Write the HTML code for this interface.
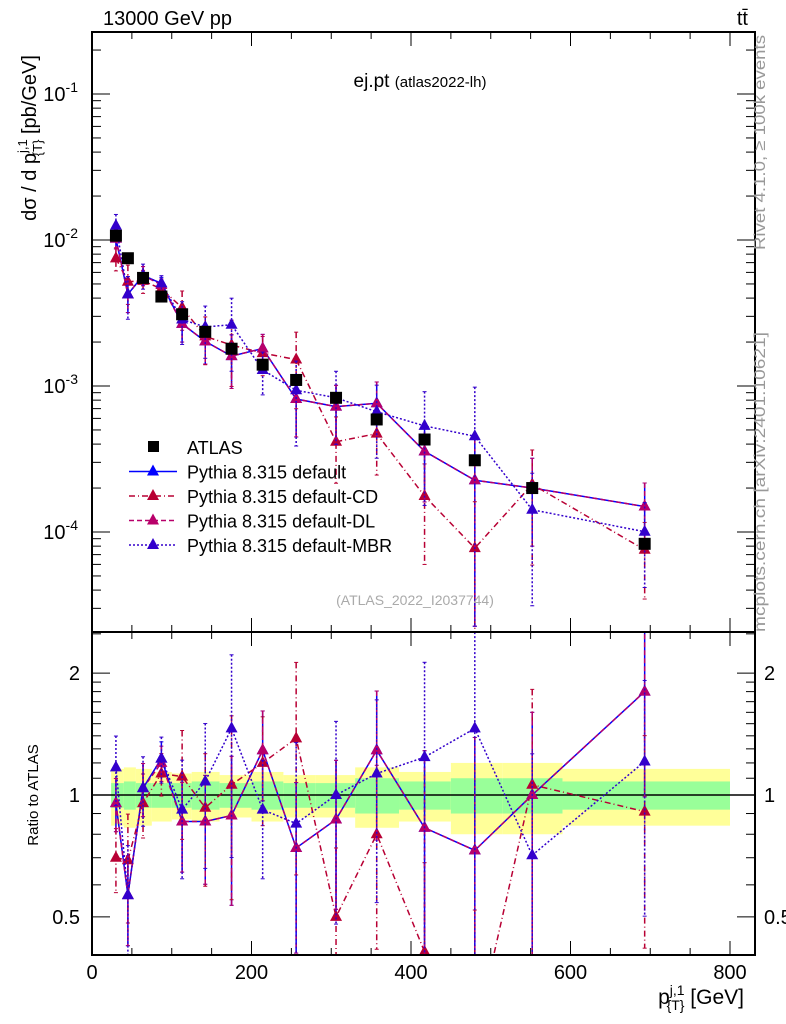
<!DOCTYPE html>
<html><head><meta charset="utf-8"><style>
html,body{margin:0;padding:0;background:#fff;overflow:hidden;width:786px;height:1024px;}
svg{display:block;font-family:"Liberation Sans",sans-serif;}
</style></head><body>
<svg id="chart" width="786" height="1024" viewBox="0 0 786 1024" xmlns="http://www.w3.org/2000/svg">
<rect width="786" height="1024" fill="#fff"/>
<g id="bands"></g>
<g id="ticks"></g>
<g id="series"></g>
<rect x="92" y="32" width="663" height="600" fill="none" stroke="#000" stroke-width="2"/>
<rect x="92" y="632" width="663" height="323" fill="none" stroke="#000" stroke-width="2"/>
<text x="103" y="25" font-size="20">13000 GeV pp</text>
<text x="748" y="25" font-size="20" text-anchor="end">tt̄</text>
<text x="420" y="87" font-size="19" text-anchor="middle">ej.pt <tspan font-size="15">(atlas2022-lh)</tspan></text>
<text x="415" y="605" font-size="14" fill="#aaa" text-anchor="middle">(ATLAS_2022_I2037744)</text>
<text transform="translate(765,250) rotate(-90)" font-size="16" fill="#999" textLength="215" lengthAdjust="spacingAndGlyphs">Rivet 4.1.0, ≥ 100k events</text>
<text transform="translate(765,632) rotate(-90)" font-size="16" fill="#999" textLength="300" lengthAdjust="spacingAndGlyphs">mcplots.cern.ch [arXiv:2401.10621]</text>
<text transform="translate(36,138) rotate(-90)" font-size="20" text-anchor="middle">dσ / d p<tspan font-size="13" dy="-9">j,1</tspan><tspan font-size="13" dx="-17" dy="15">{T}</tspan><tspan dy="-6"> [pb/GeV]</tspan></text>
<text transform="translate(38,795) rotate(-90)" font-size="15" text-anchor="middle">Ratio to ATLAS</text>
<text x="744" y="1004" font-size="21" text-anchor="end">p<tspan font-size="14" dy="-9">j,1</tspan><tspan font-size="14" dx="-18" dy="15">{T}</tspan><tspan dy="-6"> [GeV]</tspan></text>
<g id="legend"></g>
</svg>
<script>
const xs = [30,45,64,87,113,142,175,214,256,306,357,417,480,552,693];
const dataVals = [1.07e-2,7.5e-3,5.5e-3,4.1e-3,3.1e-3,2.35e-3,1.8e-3,1.4e-3,1.1e-3,8.3e-4,5.9e-4,4.3e-4,3.1e-4,2.0e-4,8.3e-5];
const ratioDefault = [0.955,0.566,1.04,1.23,0.86,0.86,0.89,1.29,0.74,0.87,1.29,0.83,0.73,1.0,1.80];
const ratioCD = [0.70,0.69,0.955,1.13,1.11,0.93,1.06,1.20,1.38,0.50,0.80,0.41,0.25,1.06,0.91];
const ratioDL = [0.955,0.566,1.04,1.20,0.86,0.86,0.89,1.29,0.74,0.87,1.29,0.83,0.73,1.0,1.80];
const ratioMBR = [1.17,0.566,1.04,1.23,0.92,1.08,1.46,0.92,0.85,1.0,1.13,1.24,1.46,0.71,1.21];
const relErr = [0.15,0.25,0.15,0.1,0.25,0.3,0.4,0.25,0.45,0.4,0.4,0.55,0.9,0.6,0.45];
const binEdges = [24,40,55,75,100,125,160,200,240,280,330,385,450,515,590,800];
const bandYellow = [0.16,0.17,0.16,0.14,0.13,0.14,0.12,0.14,0.12,0.12,0.17,0.14,0.2,0.2,0.16];
const bandGreen = [0.07,0.08,0.07,0.07,0.07,0.08,0.07,0.08,0.07,0.07,0.1,0.08,0.1,0.1,0.08];
const mainTicks = [-1,-2,-3,-4];
const ratioTicks = [0.5,1,2];
const xTicks = [0,200,400,600,800];

const NS="http://www.w3.org/2000/svg";
const X=v=>92+v*0.7975;
const YM=v=>240-146*(Math.log10(v)+2);
const YR=r=>795-405*Math.log10(r);
function mk(tag,attrs,parent){const e=document.createElementNS(NS,tag);for(const k in attrs)e.setAttribute(k,attrs[k]);(typeof parent==='string'?document.getElementById(parent):parent).appendChild(e);return e;}

for(let i=0;i<bandYellow.length;i++){
  const x0=X(binEdges[i]),x1=X(binEdges[i+1]);
  const y=mk('rect',{x:x0,y:YR(1+bandYellow[i]),width:x1-x0,height:YR(1-bandYellow[i])-YR(1+bandYellow[i]),fill:'#ffff99'},'bands');
  
  
  const g=mk('rect',{x:x0,y:YR(1+bandGreen[i]),width:x1-x0,height:YR(1-bandGreen[i])-YR(1+bandGreen[i]),fill:'#99ff99'},'bands');
  
  
}
const ref=mk('line',{x1:92,x2:755,y1:795,y2:795,stroke:'#000','stroke-width':1.5},'bands');



function tick(x1,y1,x2,y2){mk('line',{x1,y1,x2,y2,stroke:'#000','stroke-width':1},'ticks');}
function label(x,y,t,anchor,size){const e=mk('text',{x,y,'font-size':size||20,'text-anchor':anchor},'ticks');e.textContent=t;return e;}
for(let v=0;v<=800;v+=50){
  const x=X(v),L=v%200===0?14:7;
  tick(x,632,x,632-L);tick(x,32,x,32+L);tick(x,955,x,955-L);tick(x,632,x,632+L);
}
xTicks.forEach(v=>label(X(v),979,String(v),'middle'));
for(let d=-5;d<0;d++)for(let m=1;m<10;m++){
  const y=YM(m*Math.pow(10,d));if(y<33||y>631)continue;
  const L=m===1?18:9;tick(92,y,92+L,y);tick(755,y,755-L,y);
}
mainTicks.forEach(d=>{const t=label(78,YM(Math.pow(10,d))+7,'10','end');const s=document.createElementNS(NS,'tspan');s.setAttribute('font-size','14');s.setAttribute('dy','-9');s.textContent=String(d);t.appendChild(s);});
[0.4,0.5,0.6,0.7,0.8,0.9,1,1.1,1.2,1.3,1.4,1.5,1.6,1.7,1.8,1.9,2,2.5].forEach(r=>{
  const y=YR(r);if(y<633||y>954)return;const L=[0.5,1,2].includes(r)?18:9;tick(92,y,92+L,y);tick(755,y,755-L,y);
});
ratioTicks.forEach(r=>{label(80,YR(r)+7,String(r),'end');label(764,YR(r)+7,String(r),'start');});

const clipR=mk('clipPath',{id:'cr'},'series');mk('rect',{x:92,y:632,width:663,height:323},clipR);
const clipM=mk('clipPath',{id:'cm'},'series');mk('rect',{x:92,y:32,width:663,height:600},clipM);
const series=[
 {name:'default',r:ratioDefault,c:'#0000ff',d:'none',e:1},
 {name:'default-CD',r:ratioCD,c:'#b80034',d:'6,3,1,3',e:1.2},
 {name:'default-DL',r:ratioDL,c:'#b8006a',d:'5,3',e:1},
 {name:'default-MBR',r:ratioMBR,c:'#3300cc',d:'2,2',e:1.3}
];
function tri(g,x,y,c){return mk('path',{d:`M${x},${y-7}L${x+6},${y+4}L${x-6},${y+4}Z`,fill:c},g);}
series.forEach(s=>{
  ['main','ratio'].forEach(panel=>{
    const g=mk('g',{'clip-path':panel==='main'?'url(#cm)':'url(#cr)'},'series');
    
    
    const ys=xs.map((x,i)=>panel==='main'?YM(dataVals[i]*s.r[i]):YR(s.r[i]));
    mk('polyline',{points:xs.map((x,i)=>X(x)+','+ys[i]).join(' '),fill:'none',stroke:s.c,'stroke-width':1.5,'stroke-dasharray':s.d},g);
    xs.forEach((x,i)=>{
      const e=relErr[i]*s.e;
      const lo=Math.max(1-e,0.05),hi=1+e;
      const y1=panel==='main'?YM(dataVals[i]*s.r[i]*hi):YR(s.r[i]*hi);
      const y2=panel==='main'?YM(dataVals[i]*s.r[i]*lo):YR(s.r[i]*lo);
      mk('line',{x1:X(x),x2:X(x),y1,y2,stroke:s.c,'stroke-width':1.5,'stroke-dasharray':s.d},g);
      mk('line',{x1:X(x)-2,x2:X(x)+2,y1,y2:y1,stroke:s.c},g);
      mk('line',{x1:X(x)-2,x2:X(x)+2,y1:y2,y2,stroke:s.c},g);
      const t=tri(g,X(x),ys[i],s.c);
      
      
    });
  });
});
xs.forEach((x,i)=>{
  const r=mk('rect',{x:X(x)-6,y:YM(dataVals[i])-6,width:12,height:12,fill:'#000'},'series');
  
  
});

const lg=[['ATLAS',null],['Pythia 8.315 default',series[0]],['Pythia 8.315 default-CD',series[1]],['Pythia 8.315 default-DL',series[2]],['Pythia 8.315 default-MBR',series[3]]];
lg.forEach((l,i)=>{
  const y=447+i*24.5;
  const g=mk('g',{},'legend');
  
  
  if(!l[1]){mk('rect',{x:148,y:y-6,width:11,height:11,fill:'#000'},g);}
  else{mk('line',{x1:129,x2:177,y1:y,y2:y,stroke:l[1].c,'stroke-width':1.5,'stroke-dasharray':l[1].d},g);tri(g,153,y,l[1].c);}
  const t=mk('text',{x:187,y:y+7,'font-size':18},g);t.textContent=l[0];
});
</script>
</body></html>
